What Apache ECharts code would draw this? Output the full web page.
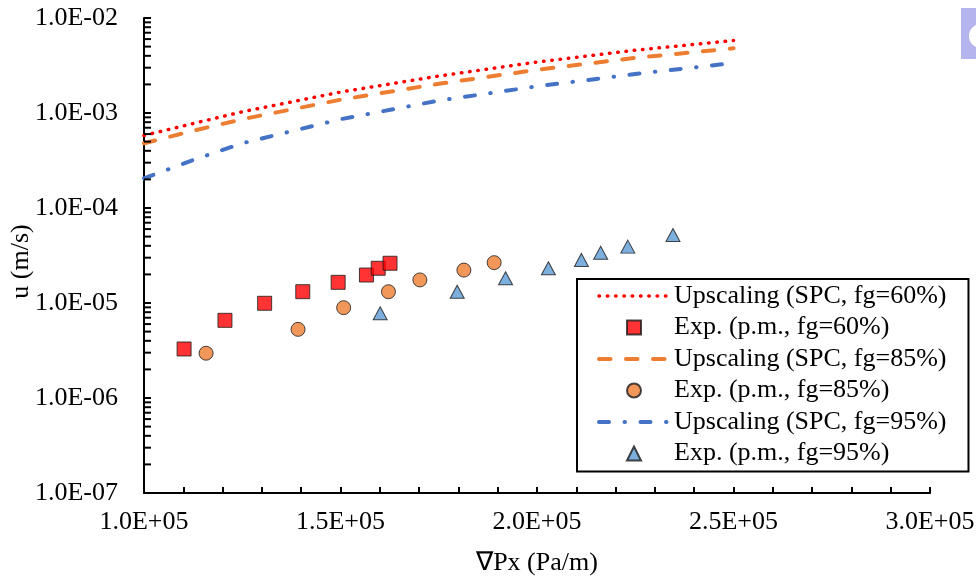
<!DOCTYPE html>
<html>
<head>
<meta charset="utf-8">
<script src="https://cdn.jsdelivr.net/npm/echarts@6/dist/echarts.min.js"></script>
<style>html,body{margin:0;padding:0;background:#fff;}#c{width:976px;height:582px;}</style>
</head>
<body>
<div id="c"></div>
<script>
// Upscaling model curves (x in Pa/m, u in m/s)
const lineX = [100000, 112500, 125000, 150000, 175000, 200000, 225000, 250000];
const up60 = [5.8e-4, 7.75e-4, 1.03e-3, 1.66e-3, 2.45e-3, 3.44e-3, 4.58e-3, 5.8e-3];
const up85 = [4.8e-4, 6.5e-4, 8.6e-4, 1.38e-3, 2.03e-3, 2.85e-3, 3.8e-3, 4.8e-3];
const up95 = [2.05e-4, 3.2e-4, 4.8e-4, 8.6e-4, 1.35e-3, 1.91e-3, 2.57e-3, 3.36e-3];

// Experimental points
const exp60X = [110200, 120600, 130700, 140400, 149400, 156600, 159600, 162600];
const exp60Y = [3.28e-6, 6.57e-6, 9.93e-6, 1.315e-5, 1.65e-5, 1.97e-5, 2.32e-5, 2.62e-5];
const exp85X = [115800, 139200, 150800, 162200, 170200, 181400, 189100];
const exp85Y = [2.96e-6, 5.28e-6, 8.93e-6, 1.315e-5, 1.75e-5, 2.22e-5, 2.66e-5];
const exp95X = [160100, 179700, 192000, 202900, 211300, 216200, 223100, 234600];
const exp95Y = [7.8e-6, 1.315e-5, 1.82e-5, 2.32e-5, 2.84e-5, 3.38e-5, 3.92e-5, 5.2e-5];

// Names and ticks
const seriesNames = [
  'Upscaling (SPC, fg=60%)', 'Exp. (p.m., fg=60%)',
  'Upscaling (SPC, fg=85%)', 'Exp. (p.m., fg=85%)',
  'Upscaling (SPC, fg=95%)', 'Exp. (p.m., fg=95%)'
];
const xAxisName = '\u2207Px (Pa/m)';
const yAxisName = 'u (m/s)';
const yDecades = [-7, -6, -5, -4, -3];
const yMinorMultipliers = [2, 3, 4, 5, 6, 7, 8, 9];

const zip = (xs, ys) => xs.map((x, i) => [x, ys[i]]);
const FONT = '"Liberation Serif", "Times New Roman", serif';

function fmtE(v) {
  const e = Math.round(Math.log10(Math.abs(v)));
  const m = v / Math.pow(10, e);
  const s = e < 0 ? '-' : '+';
  return m.toFixed(1) + 'E' + s + String(Math.abs(e)).padStart(2, '0');
}

const minorTickData = [];
yDecades.forEach(d => yMinorMultipliers.forEach(k => minorTickData.push([100000, k * Math.pow(10, d)])));

const chart = echarts.init(document.getElementById('c'), null, {renderer: 'canvas'});
const lineCommon = {type: 'line', showSymbol: false, symbol: 'none', smooth: false, z: 2};
const scatterBorder = {borderColor: '#1a1a1a', borderWidth: 1};

const SQUARE = 'path://M0,0H14V14H0Z';
const TRIANGLE = 'path://M7,0L14,14H0Z';
const legendData = [
  {name: seriesNames[0], itemStyle: {opacity: 0}, lineStyle: {width: 3.5}},
  {name: seriesNames[1], icon: SQUARE},
  {name: seriesNames[2], itemStyle: {opacity: 0}, lineStyle: {width: 4}},
  {name: seriesNames[3], icon: 'circle'},
  {name: seriesNames[4], itemStyle: {opacity: 0}, lineStyle: {width: 4}},
  {name: seriesNames[5], icon: TRIANGLE}
];

chart.setOption({
  animation: false,
  backgroundColor: '#fff',
  grid: {left: 144, right: 46, top: 18, bottom: 89, containLabel: false, outerBoundsMode: 'none'},
  xAxis: {
    type: 'value', min: 100000, max: 300000, interval: 50000,
    name: xAxisName, nameLocation: 'middle', nameGap: 57, nameMoveOverlap: false,
    nameTextStyle: {fontFamily: FONT, fontSize: 26, color: '#000'},
    axisLine: {show: true, lineStyle: {color: '#000', width: 2}},
    axisTick: {show: true, inside: true, length: 6, lineStyle: {color: '#000', width: 2}},
    minorTick: {show: true, splitNumber: 5, length: 6, lineStyle: {color: '#000', width: 2}},
    splitLine: {show: false},
    axisLabel: {fontFamily: FONT, fontSize: 26, color: '#000', margin: 16, formatter: v => fmtE(v)}
  },
  yAxis: {
    type: 'log', logBase: 10, min: 1e-7, max: 1e-2, splitNumber: 5,
    name: yAxisName, nameLocation: 'middle', nameGap: 110, nameRotate: 90, nameMoveOverlap: false,
    nameTextStyle: {fontFamily: FONT, fontSize: 26, color: '#000', padding: [0, 12, 0, 0]},
    axisLine: {show: true, lineStyle: {color: '#000', width: 2}},
    axisTick: {show: true, inside: true, length: 7, lineStyle: {color: '#000', width: 2}},
    splitLine: {show: false},
    axisLabel: {fontFamily: FONT, fontSize: 26, color: '#000', margin: 26, formatter: v => fmtE(v)}
  },
  legend: {
    orient: 'vertical', left: 577, top: 279,
    data: legendData,
    symbolKeepAspect: true,
    padding: [4, 22, 5, 20], itemGap: 5.5, itemWidth: 70, itemHeight: 14,
    lineStyle: {width: 4},
    borderColor: '#000', borderWidth: 2, backgroundColor: '#fff',
    textStyle: {fontFamily: FONT, fontSize: 26, lineHeight: 26, color: '#000'}
  },
  graphic: [
    {type: 'rect', left: 961, top: 8, shape: {width: 20, height: 51}, style: {fill: '#b4b4ef'}, silent: true},
    {type: 'circle', shape: {cx: 981, cy: 36, r: 12}, style: {fill: '#fff'}, silent: true}
  ],
  series: [
    Object.assign({}, lineCommon, {name: seriesNames[0], data: zip(lineX, up60),
      itemStyle: {color: '#ff0000'},
      lineStyle: {color: '#ff0000', width: 3.5, type: [0.5, 7.8], cap: 'round'}}),
    {name: seriesNames[1], type: 'scatter', data: zip(exp60X, exp60Y), symbol: 'rect', symbolSize: 14,
      itemStyle: Object.assign({color: '#ff0000'}, scatterBorder), z: 3},
    Object.assign({}, lineCommon, {name: seriesNames[2], data: zip(lineX, up85),
      itemStyle: {color: '#ed7d31'},
      lineStyle: {color: '#ed7d31', width: 4, type: [11.5, 15.5], cap: 'round'}}),
    {name: seriesNames[3], type: 'scatter', data: zip(exp85X, exp85Y), symbol: 'circle', symbolSize: 14,
      itemStyle: Object.assign({color: '#ed7d31'}, scatterBorder), z: 3},
    Object.assign({}, lineCommon, {name: seriesNames[4], data: zip(lineX, up95),
      itemStyle: {color: '#4472c4'},
      lineStyle: {color: '#4472c4', width: 4, type: [10, 15.5, 0.5, 15.5], cap: 'round'}}),
    {name: seriesNames[5], type: 'scatter', data: zip(exp95X, exp95Y), symbol: 'triangle', symbolSize: [14, 13],
      itemStyle: Object.assign({color: '#5b9bd5'}, scatterBorder), z: 3},
    {
      name: 'yMinorTicks', type: 'custom', silent: true, clip: false, z: 5,
      data: minorTickData,
      renderItem: function (params, api) {
        const p = api.coord([api.value(0), api.value(1)]);
        return {type: 'line', shape: {x1: p[0], y1: p[1], x2: p[0] + 7, y2: p[1]},
          style: {stroke: '#000', lineWidth: 2}};
      }
    }
  ]
});
</script>
</body>
</html>
